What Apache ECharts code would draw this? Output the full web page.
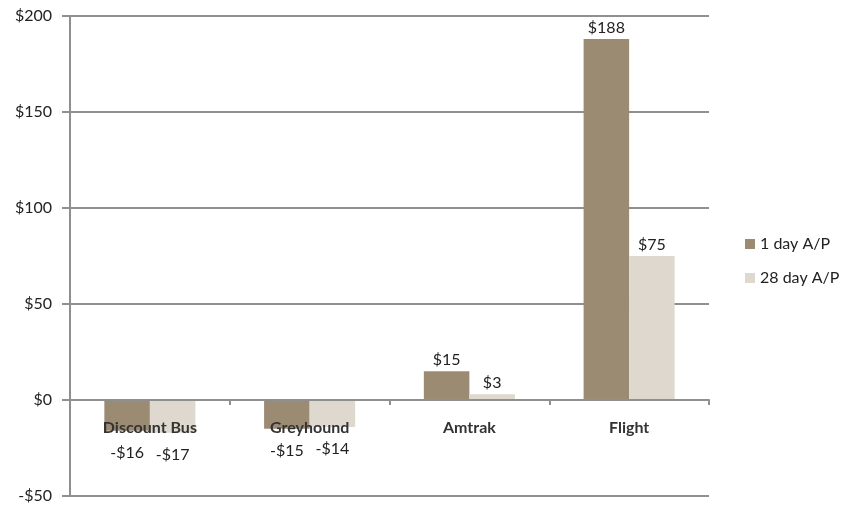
<!DOCTYPE html>
<html><head><meta charset="utf-8">
<script src="https://cdn.jsdelivr.net/npm/echarts@6/dist/echarts.min.js"></script>
<style>html,body{margin:0;padding:0;background:#fff}#c{width:841px;height:508px}</style>
</head><body><div id="c"></div>
<script>
const categories = ['Discount Bus', 'Greyhound', 'Amtrak', 'Flight'];
const seriesNames = ['1 day A/P', '28 day A/P'];
const oneDay = [-16, -15, 15, 188];
const twentyEightDay = [-17, -14, 3, 75];
const yTicks = { min: -50, max: 200, interval: 50 };

const fmt = v => (v < 0 ? '-$' + Math.abs(v) : '$' + v);
const font = 'Lato, "Open Sans", sans-serif';
const gray = '#8f8f8f';
const gridTop = 16, gridBottom = 12, H = 508;

function labelCfg() {
  return {
    show: true,
    fontFamily: font, fontSize: 16, color: '#222',
    formatter: p => fmt(p.value),
    position: 'top', distance: 3
  };
}
function makeData(arr) {
  return arr.map(v => v < 0 ? { value: v, label: { position: 'bottom', distance: 14 } } : v);
}
// pixel distance from bottom of grid to the zero line, derived from the axis range
const plotH = H - gridTop - gridBottom;
const zeroOffset = plotH * (0 - yTicks.min) / (yTicks.max - yTicks.min);

const chart = echarts.init(document.getElementById('c'));
chart.setOption({
  animation: false,
  grid: { left: 70, right: 132, top: gridTop, bottom: gridBottom, containLabel: false, outerBoundsMode: 'none' },
  legend: {
    orient: 'vertical', left: 740, top: 231, itemWidth: 10, itemHeight: 10, itemGap: 18,
    icon: 'rect',
    textStyle: { fontFamily: font, fontSize: 16, color: '#222' },
    data: seriesNames
  },
  xAxis: {
    type: 'category', data: categories, z: 10,
    offset: -zeroOffset,
    axisLine: { onZero: false, lineStyle: { color: gray, width: 2 } },
    axisTick: { show: true, length: 5, lineStyle: { color: gray, width: 2 } },
    axisLabel: { fontFamily: font, fontSize: 16, fontWeight: 'bold', color: '#333', margin: 20 }
  },
  yAxis: {
    type: 'value', min: yTicks.min, max: yTicks.max, interval: yTicks.interval,
    axisLine: { show: true, lineStyle: { color: gray, width: 2 } },
    axisTick: { show: true, length: 8, lineStyle: { color: gray, width: 2 } },
    splitLine: { lineStyle: { color: gray, width: 2 } },
    axisLabel: { fontFamily: font, fontSize: 16, color: '#222', margin: 18, formatter: fmt }
  },
  series: [
    { name: seriesNames[0], type: 'bar', data: makeData(oneDay), barGap: 0, barCategoryGap: '43%',
      itemStyle: { color: '#9c8b73' }, label: labelCfg() },
    { name: seriesNames[1], type: 'bar', data: makeData(twentyEightDay),
      itemStyle: { color: '#ded8ce' }, label: labelCfg() }
  ]
});
</script></body></html>
